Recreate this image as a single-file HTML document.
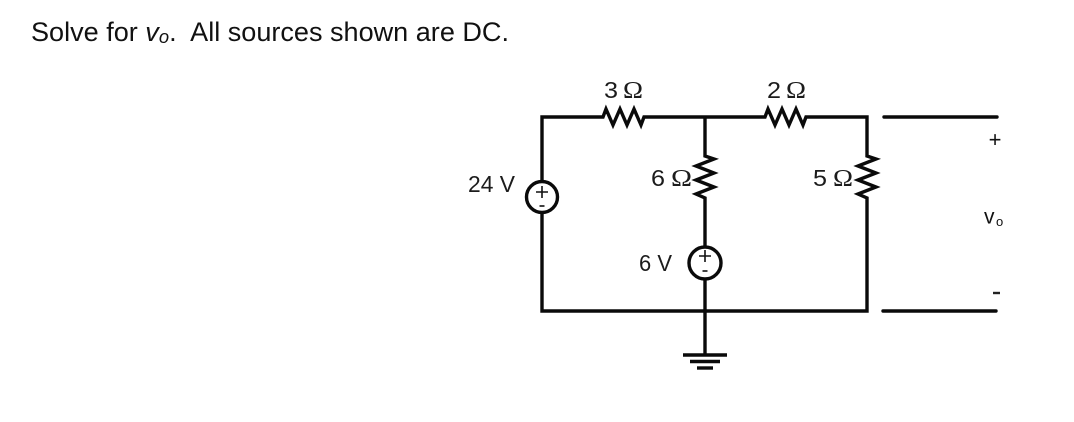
<!DOCTYPE html>
<html>
<head>
<meta charset="utf-8">
<style>
html,body{margin:0;padding:0;background:#fff;width:1074px;height:422px;overflow:hidden}
svg{display:block}
.l{font-family:"Liberation Sans",sans-serif;font-size:23px;fill:#1c1c1c}
.o{font-family:"Liberation Serif",serif;font-size:24px;fill:#1c1c1c}
.s{font-family:"Liberation Sans",sans-serif;fill:#111;white-space:pre}
</style>
</head>
<body>
<svg width="1074" height="422" viewBox="0 0 1074 422" xmlns="http://www.w3.org/2000/svg">
<rect width="1074" height="422" fill="#fff"/>
<text x="31" y="41" class="s" font-size="26.500" textLength="478" lengthAdjust="spacingAndGlyphs" xml:space="preserve">Solve for <tspan font-style="italic">v</tspan><tspan font-style="italic" font-size="18" dy="2">o</tspan><tspan dy="-2">.  All sources shown are DC.</tspan></text>

<g fill="none" stroke="#0a0a0a" stroke-width="3.400" stroke-linejoin="miter">
<!-- main loop -->
<path d="M542 182V117H603L606 109 613 125 620 109 627 125 634 109 641 125 644 117H765L768 109 775 125 782 109 789 125 796 109 803 125 806 117H867V156L876 159 858 166 876 173 858 180 876 187 858 194 867 198V311H542V212"/>
<!-- middle branch -->
<path d="M705 117V156L714 159 696 166 714 173 696 180 714 187 696 194 705 198V247"/>
<path d="M705 279V355"/>
<!-- sources -->
<circle cx="542" cy="197" r="15.500"/>
<circle cx="705" cy="263" r="16"/>
<!-- ground -->
<path d="M683 355H727"/>
<path d="M690 361.500H720"/>
<path d="M697 368H713"/>
<!-- terminals -->
<path d="M884 117H997" stroke-linecap="round"/>
<path d="M883 311H996" stroke-linecap="round"/>
</g>

<!-- source polarity -->
<g stroke="#111" fill="none" stroke-width="1.600">
<path d="M536 192H548M542 186V198"/>
<path d="M539.500 206H544.500"/>
<path d="M699 256H711M705 250V262"/>
<path d="M702.500 271H707.500"/>
</g>

<!-- labels -->
<text x="604" y="98" class="l" textLength="14" lengthAdjust="spacingAndGlyphs">3</text>
<text x="623" y="98" class="o" textLength="20" lengthAdjust="spacingAndGlyphs">Ω</text>
<text x="767" y="98" class="l" textLength="14" lengthAdjust="spacingAndGlyphs">2</text>
<text x="786" y="98" class="o" textLength="20" lengthAdjust="spacingAndGlyphs">Ω</text>
<text x="651" y="186" class="l" textLength="14" lengthAdjust="spacingAndGlyphs">6</text>
<text x="671" y="186" class="o" textLength="21" lengthAdjust="spacingAndGlyphs">Ω</text>
<text x="813" y="186" class="l" textLength="14" lengthAdjust="spacingAndGlyphs">5</text>
<text x="833" y="186" class="o" textLength="20" lengthAdjust="spacingAndGlyphs">Ω</text>
<text x="468" y="192" class="l" textLength="47" lengthAdjust="spacingAndGlyphs">24 V</text>
<text x="639" y="271" class="l" textLength="33" lengthAdjust="spacingAndGlyphs">6 V</text>

<text x="995" y="147" class="s" font-size="22" text-anchor="middle">+</text>
<text x="984" y="223.500" class="s" font-size="21">v</text>
<text x="996" y="226" class="s" font-size="13">o</text>
<path d="M993 293H1000" stroke="#222" stroke-width="2.400"/>
</svg>
</body>
</html>
